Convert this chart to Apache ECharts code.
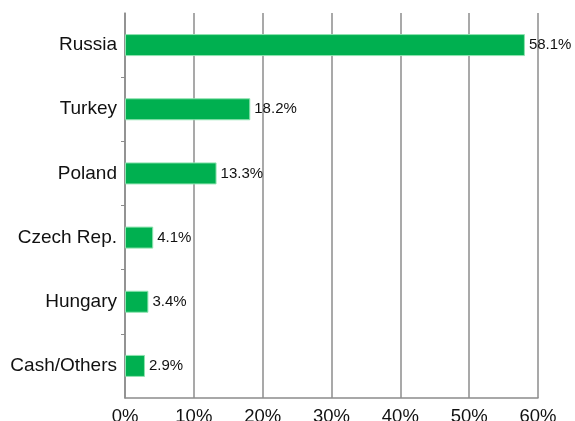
<!DOCTYPE html>
<html><head><meta charset="utf-8">
<script src="https://cdn.jsdelivr.net/npm/echarts@6/dist/echarts.min.js"></script>
<style>html,body{margin:0;padding:0;background:#fff}#c{width:575px;height:421px}</style>
</head><body><div id="c"></div>
<script>
var categories = ['Cash/Others', 'Hungary', 'Czech Rep.', 'Poland', 'Turkey', 'Russia'];
var values = [2.9, 3.4, 4.1, 13.3, 18.2, 58.1];
var xTicks = [0, 10, 20, 30, 40, 50, 60];
// interior category boundaries (for the small y-axis tick marks)
var boundaries = ['b1', 'b2', 'b3', 'b4', 'b5'];

var G = { left: 125, right: 37, top: 13, bottom: 23 };
var band = (421 - G.top - G.bottom) / categories.length;
var font = 'Liberation Sans, Arial, sans-serif';

var chart = echarts.init(document.getElementById('c'));
chart.setOption({
  animation: false,
  grid: [
    { left: G.left, right: G.right, top: G.top, bottom: G.bottom, containLabel: false, outerBoundsMode: 'none' },
    { left: G.left, right: G.right, top: G.top + band, bottom: G.bottom + band, containLabel: false, outerBoundsMode: 'none' }
  ],
  xAxis: [{
    type: 'value', gridIndex: 0, min: xTicks[0], max: xTicks[xTicks.length - 1], interval: 10,
    axisLine: { show: true, lineStyle: { color: '#8c8c8c', width: 1.5 } },
    axisTick: { show: false },
    splitLine: { show: true, lineStyle: { color: '#8c8c8c', width: 1.5 } },
    axisLabel: { formatter: '{value}%', color: '#111', fontSize: 18.5, fontFamily: font, margin: 9 }
  }, {
    type: 'value', gridIndex: 1, show: false
  }],
  yAxis: [{
    type: 'category', gridIndex: 0, data: categories,
    axisLine: { show: true, lineStyle: { color: '#8c8c8c', width: 1.5 } },
    axisTick: { show: false },
    axisLabel: { color: '#111', fontSize: 19, fontFamily: font, margin: 8 }
  }, {
    type: 'category', gridIndex: 1, data: boundaries, boundaryGap: false,
    axisLine: { show: false },
    axisTick: { show: true, length: 4, lineStyle: { color: '#8c8c8c' } },
    axisLabel: { show: false },
    splitLine: { show: false }
  }],
  series: [{
    type: 'bar', data: values, barWidth: 22, xAxisIndex: 0, yAxisIndex: 0,
    itemStyle: { color: '#00b050', borderColor: '#8fe3b0', borderWidth: 1 },
    label: { show: true, position: 'right', distance: 4, formatter: function (p) { return p.value.toFixed(1) + '%'; },
      color: '#111', fontSize: 15, fontFamily: font }
  }]
});
</script></body></html>
